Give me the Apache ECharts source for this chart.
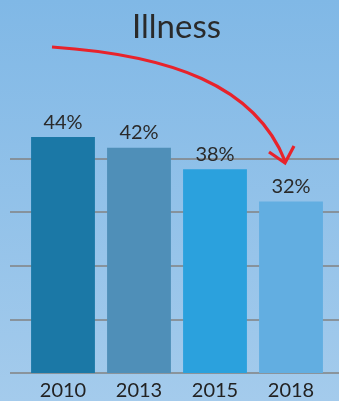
<!DOCTYPE html>
<html><head><meta charset="utf-8">
<script src="https://cdn.jsdelivr.net/npm/echarts@6/dist/echarts.min.js"></script>
<style>html,body{margin:0;padding:0;}#c{width:339px;height:401px;}</style>
</head><body><div id="c"></div>
<script>
const categories = ['2010', '2013', '2015', '2018'];
const values = [44, 42, 38, 32];
const barColors = ['#1b78a6', '#4f8fb8', '#2ba1dd', '#62aee1'];
const yTicks = [0, 10, 20, 30, 40];

const chart = echarts.init(document.getElementById('c'), null, {renderer: 'canvas'});
const font = 'Lato, "Open Sans", sans-serif';
chart.setOption({
  animation: false,
  backgroundColor: {type: 'linear', x: 0, y: 0, x2: 0, y2: 1, colorStops: [
    {offset: 0, color: '#80b8e6'}, {offset: 1, color: '#a4cbec'}]},
  title: {text: 'Illness', left: 127, top: 6,
    textStyle: {fontFamily: font, fontSize: 33, fontWeight: 'normal', color: '#2a2a2a'}},
  grid: [
    {left: 10, right: 0, top: 158.5, bottom: 28},
    {left: 25, right: 10, top: 158.5, bottom: 28}
  ],
  xAxis: [
    {gridIndex: 0, type: 'value', show: false},
    {gridIndex: 1, type: 'category', data: categories,
     axisLine: {show: false}, axisTick: {show: false},
     axisLabel: {fontFamily: font, fontSize: 20, color: '#222', margin: 8}}
  ],
  yAxis: [
    {gridIndex: 0, type: 'value', min: yTicks[0], max: yTicks[yTicks.length - 1], interval: 10,
     axisLine: {show: false}, axisTick: {show: false}, axisLabel: {show: false},
     splitLine: {lineStyle: {color: '#828282', width: 1.5}}},
    {gridIndex: 1, type: 'value', min: yTicks[0], max: yTicks[yTicks.length - 1], interval: 10, show: false,
     splitLine: {show: false}}
  ],
  series: [{
    type: 'bar', xAxisIndex: 1, yAxisIndex: 1, clip: false,
    barCategoryGap: '16%',
    data: values.map((v, i) => ({value: v, itemStyle: {color: barColors[i]}})),
    label: {show: true, position: 'top', distance: 5, formatter: '{c}%',
      fontFamily: font, fontSize: 20, color: '#2a2a2a'}
  }],
  graphic: [
    {type: 'bezierCurve', z: 100,
     shape: {x1: 52, y1: 47, cpx1: 170, cpy1: 55, cpx2: 255, cpy2: 85, x2: 285, y2: 161},
     style: {stroke: '#e8232b', lineWidth: 3.2, fill: null}},
    {type: 'polyline', z: 100,
     shape: {points: [[269, 152], [285, 163], [294, 146]]},
     style: {stroke: '#e8232b', lineWidth: 3.2, fill: null, lineJoin: 'miter'}}
  ]
});
</script></body></html>
